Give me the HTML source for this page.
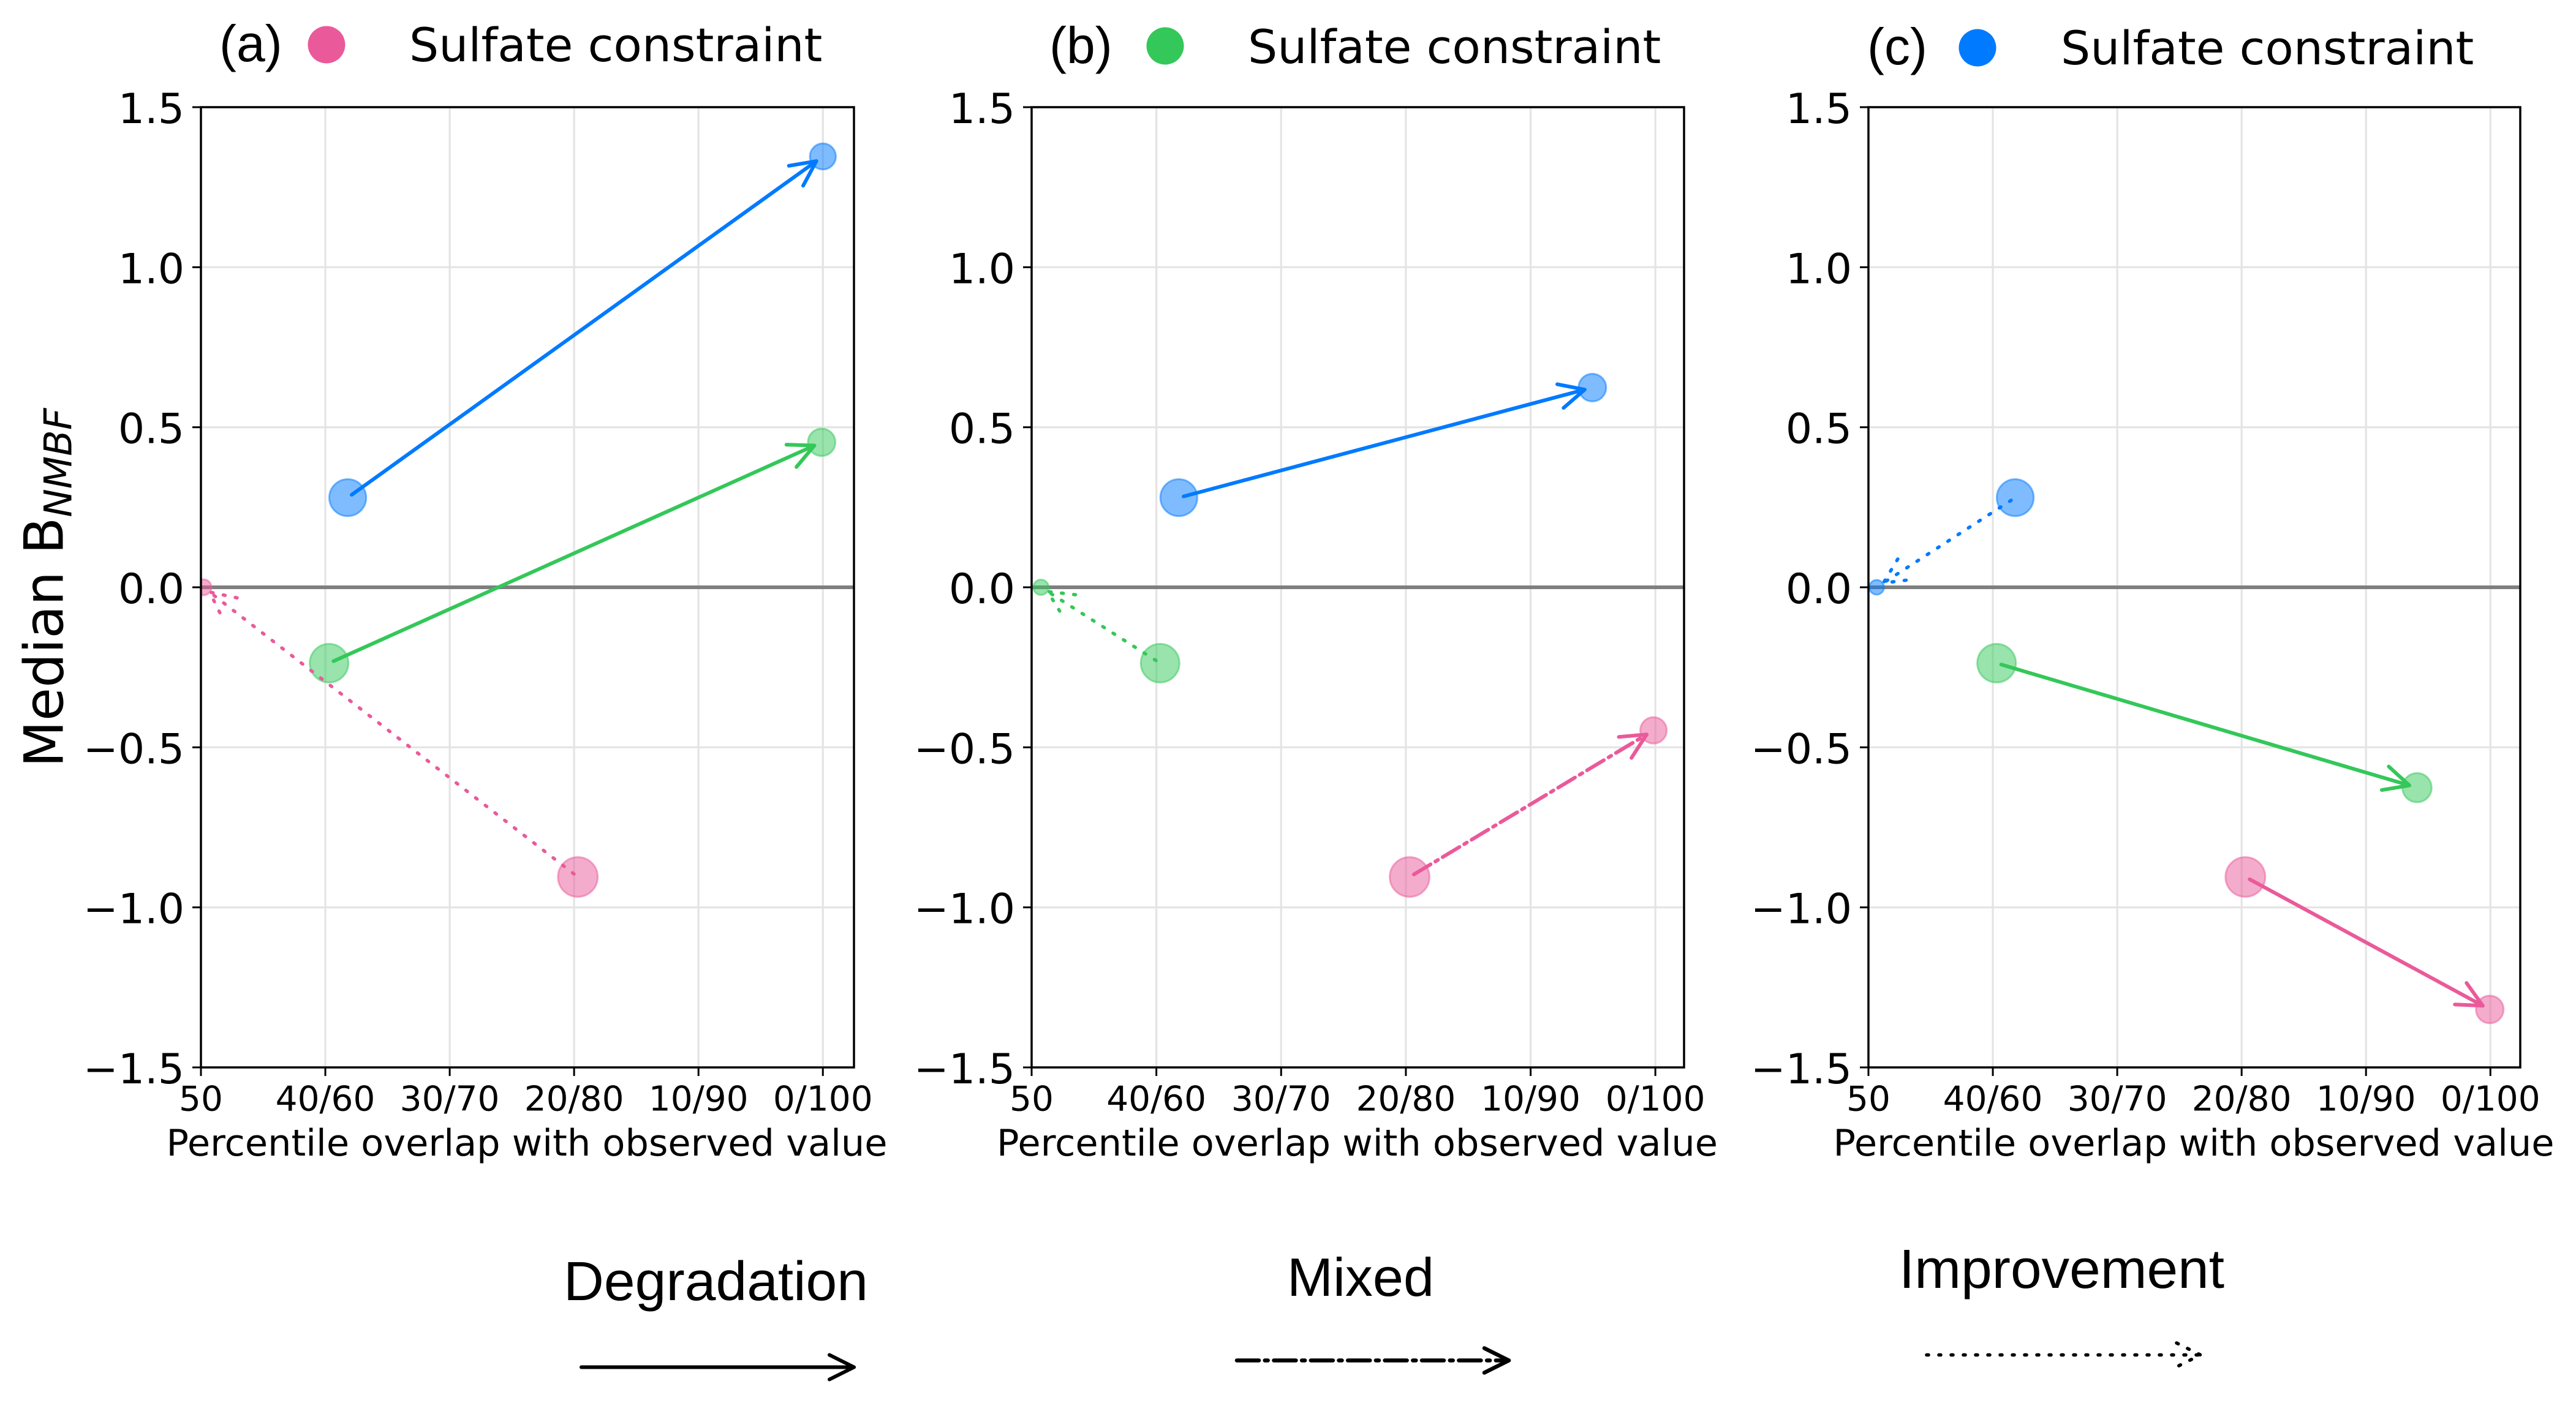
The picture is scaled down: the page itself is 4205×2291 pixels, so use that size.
<!DOCTYPE html>
<html lang="en">
<head>
<meta charset="utf-8">
<title>Median B NMBF versus percentile overlap</title>
<style>
html,body{margin:0;padding:0;background:#fff;width:4205px;height:2291px;overflow:hidden}
svg{display:block}
text{font-family:"DejaVu Sans","Liberation Sans",sans-serif;fill:#000}
text.helv{font-family:"Liberation Sans",sans-serif}
</style>
</head>
<body>
<svg id="chart" xmlns="http://www.w3.org/2000/svg" width="4205" height="2291" viewBox="0 0 4205 2291">
  <rect width="4205" height="2291" fill="#ffffff"/>

  <text class="helv" x="358" y="100" font-size="84">(a)</text>
  <circle cx="533" cy="73" r="30.5" fill="#EA5A9A"/>
  <text x="668" y="100" font-size="76">Sulfate constraint</text>

  <text class="helv" x="1713" y="103" font-size="84">(b)</text>
  <circle cx="1902" cy="75" r="30.5" fill="#34C759"/>
  <text x="2037" y="103" font-size="76">Sulfate constraint</text>

  <text class="helv" x="3048" y="105" font-size="84">(c)</text>
  <circle cx="3228" cy="78" r="30.5" fill="#007AFF"/>
  <text x="3364" y="105" font-size="76">Sulfate constraint</text>

  <text transform="translate(102.5 1253) rotate(-90)" font-size="88">Median B<tspan font-size="62" font-style="italic" dy="14">NMBF</tspan></text>

  <text class="helv" x="920" y="2123" font-size="90" textLength="497" lengthAdjust="spacingAndGlyphs">Degradation</text>
  <g fill="none" stroke="#000" stroke-width="6" stroke-linecap="round" stroke-linejoin="round">
    <path d="M949 2232.5H1394"/>
    <path d="M1354 2212.5L1394 2232.5L1354 2252.5"/>
  </g>

  <text class="helv" x="2101" y="2116" font-size="88" textLength="240" lengthAdjust="spacingAndGlyphs">Mixed</text>
  <g fill="none" stroke="#000" stroke-width="6.5" stroke-linecap="round" stroke-linejoin="round">
    <path d="M2019 2221.5H2463" stroke-dasharray="36 9.7 5 9.7"/>
    <path d="M2423 2201.5L2463 2221.5L2423 2241.5"/>
  </g>

  <text class="helv" x="3100" y="2103" font-size="90" textLength="531" lengthAdjust="spacingAndGlyphs">Improvement</text>
  <g fill="none" stroke="#000" stroke-width="5.5" stroke-linecap="round" stroke-linejoin="round">
    <path d="M3145 2212.5H3592" stroke-dasharray="3 17"/>
    <path d="M3553 2193L3592 2212.5L3553 2232" stroke-dasharray="3 17"/>
  </g>

  <g id="panels"></g>
</svg>

<script>
const xTickLabels = ['50', '40/60', '30/70', '20/80', '10/90', '0/100'];
const yTickValues = [-1.5, -1.0, -0.5, 0.0, 0.5, 1.0, 1.5];
const seriesNames = ['pink', 'green', 'blue'];

const panelAStartOverlap = [3.03, 1.03, 1.18];
const panelAStartBias = [-0.905, -0.237, 0.28];
const panelAStartSize = [1150, 1090, 1000];
const panelAEndOverlap = [0.02, 4.99, 5.0];
const panelAEndBias = [0.0, 0.453, 1.346];
const panelAEndSize = [210, 570, 515];
const panelATrend = ['improvement', 'degradation', 'degradation'];

const panelBStartOverlap = [3.03, 1.03, 1.18];
const panelBStartBias = [-0.905, -0.237, 0.28];
const panelBStartSize = [1150, 1090, 1000];
const panelBEndOverlap = [4.985, 0.075, 4.495];
const panelBEndBias = [-0.447, 0.0, 0.624];
const panelBEndSize = [530, 196, 576];
const panelBTrend = ['mixed', 'improvement', 'degradation'];

const panelCStartOverlap = [3.03, 1.03, 1.18];
const panelCStartBias = [-0.905, -0.237, 0.28];
const panelCStartSize = [1150, 1090, 1000];
const panelCEndOverlap = [4.995, 4.41, 0.066];
const panelCEndBias = [-1.319, -0.626, 0.0];
const panelCEndSize = [576, 640, 182];
const panelCTrend = ['degradation', 'degradation', 'improvement'];

const NS = 'http://www.w3.org/2000/svg';
const TOP = 175, BOTTOM = 1743, Y_MIN = -1.5, Y_MAX = 1.5;
const colorOf = { pink: '#EA5A9A', green: '#34C759', blue: '#007AFF' };
const dashOf = { degradation: null, mixed: '32 9 5 9', improvement: '3 17' };

function node(parent, tag, attrs) {
  const el = document.createElementNS(NS, tag);
  for (const k in attrs) el.setAttribute(k, attrs[k]);
  parent.appendChild(el);
  return el;
}
function yScale(v) { return BOTTOM - (v - Y_MIN) / (Y_MAX - Y_MIN) * (BOTTOM - TOP); }
function fmtTick(v) { return (v < 0 ? '\u2212' : '') + Math.abs(v).toFixed(1); }

function drawPanel(id, left, right, span, d) {
  const root = document.getElementById('panels');
  const xScale = function (v) { return left + v / span * (right - left); };
  const g = node(root, 'g', {});
  
  

  const clip = node(g, 'clipPath', { id: 'clip-' + id });
  node(clip, 'rect', { x: left, y: TOP, width: right - left, height: BOTTOM - TOP });

  yTickValues.forEach(function (v) {
    const y = yScale(v);
    if (v !== Y_MIN && v !== Y_MAX && v !== 0) {
      const gl = node(g, 'line', { x1: left, x2: right, y1: y, y2: y, stroke: '#e4e4e4', 'stroke-width': 3.2 });
      
      
    }
    const tk = node(g, 'line', { x1: left - 14, x2: left, y1: y, y2: y, stroke: '#000', 'stroke-width': 3 });
    
    
    const t = node(g, 'text', { x: left - 27, y: y + 26, 'font-size': 68, 'text-anchor': 'end' });
    t.textContent = fmtTick(v);
    
    
  });

  xTickLabels.forEach(function (label, i) {
    const x = xScale(i);
    if (i > 0) {
      const gl = node(g, 'line', { x1: x, x2: x, y1: TOP, y2: BOTTOM, stroke: '#e4e4e4', 'stroke-width': 3.2 });
      
      
    }
    const tk = node(g, 'line', { x1: x, x2: x, y1: BOTTOM, y2: BOTTOM + 14, stroke: '#000', 'stroke-width': 3 });
    
    
    const t = node(g, 'text', { x: x, y: 1813.5, 'font-size': 56.5, 'text-anchor': 'middle' });
    t.textContent = label;
    
    
  });

  const zero = node(g, 'line', { x1: left, x2: right, y1: yScale(0), y2: yScale(0), stroke: '#7f7f7f', 'stroke-width': 6 });
  
  

  const markers = node(g, 'g', { 'clip-path': 'url(#clip-' + id + ')' });
  
  

  seriesNames.forEach(function (name, i) {
    const col = colorOf[name];
    const a = node(markers, 'circle', {
      cx: xScale(d.startX[i]), cy: yScale(d.startY[i]), r: Math.sqrt(d.startS[i]) - 1.5,
      fill: col, 'fill-opacity': 0.5, stroke: col, 'stroke-opacity': 0.5, 'stroke-width': 3
    });
    
    
    const b = node(markers, 'circle', {
      cx: xScale(d.endX[i]), cy: yScale(d.endY[i]), r: Math.sqrt(d.endS[i]) - 1.5,
      fill: col, 'fill-opacity': 0.5, stroke: col, 'stroke-opacity': 0.5, 'stroke-width': 3
    });
    
    
  });

  seriesNames.forEach(function (name, i) {
    const x0 = xScale(d.startX[i]), y0 = yScale(d.startY[i]);
    const x1 = xScale(d.endX[i]), y1 = yScale(d.endY[i]);
    const len = Math.hypot(x1 - x0, y1 - y0);
    const ux = (x1 - x0) / len, uy = (y1 - y0) / len;
    const sx = x0 + ux * 8, sy = y0 + uy * 8;
    const tx = x1 - ux * 13, ty = y1 - uy * 13;
    const hl = 41, hw = 20;
    const b1x = tx - ux * hl - uy * hw, b1y = ty - uy * hl + ux * hw;
    const b2x = tx - ux * hl + uy * hw, b2y = ty - uy * hl - ux * hw;
    const dash = dashOf[d.trend[i]];
    const arrow = node(g, 'g', {
      fill: 'none', stroke: colorOf[name], 'stroke-width': d.trend[i] === 'improvement' ? 5.5 : 6,
      'stroke-linecap': 'round', 'stroke-linejoin': 'round'
    });
    
    
    const shaft = node(arrow, 'line', { x1: sx, y1: sy, x2: tx, y2: ty });
    const head = node(arrow, 'path', { d: 'M' + b1x + ' ' + b1y + 'L' + tx + ' ' + ty + 'L' + b2x + ' ' + b2y });
    if (dash) shaft.setAttribute('stroke-dasharray', dash);
    if (d.trend[i] === 'improvement') head.setAttribute('stroke-dasharray', dash);
  });

  const frame = node(g, 'rect', { x: left, y: TOP, width: right - left, height: BOTTOM - TOP, fill: 'none', stroke: '#000', 'stroke-width': 3.5 });
  
  

  const xl = node(g, 'text', {
    x: (left + right) / 2 - 1, y: 1887, 'font-size': 60, 'text-anchor': 'middle',
    textLength: 1177, lengthAdjust: 'spacingAndGlyphs'
  });
  xl.textContent = 'Percentile overlap with observed value';
  
  
}

drawPanel('a', 328, 1394, 5.25, {
  startX: panelAStartOverlap, startY: panelAStartBias, startS: panelAStartSize,
  endX: panelAEndOverlap, endY: panelAEndBias, endS: panelAEndSize, trend: panelATrend
});
drawPanel('b', 1684, 2749, 5.23, {
  startX: panelBStartOverlap, startY: panelBStartBias, startS: panelBStartSize,
  endX: panelBEndOverlap, endY: panelBEndBias, endS: panelBEndSize, trend: panelBTrend
});
drawPanel('c', 3050, 4114, 5.24, {
  startX: panelCStartOverlap, startY: panelCStartBias, startS: panelCStartSize,
  endX: panelCEndOverlap, endY: panelCEndBias, endS: panelCEndSize, trend: panelCTrend
});
</script>
</body>
</html>
